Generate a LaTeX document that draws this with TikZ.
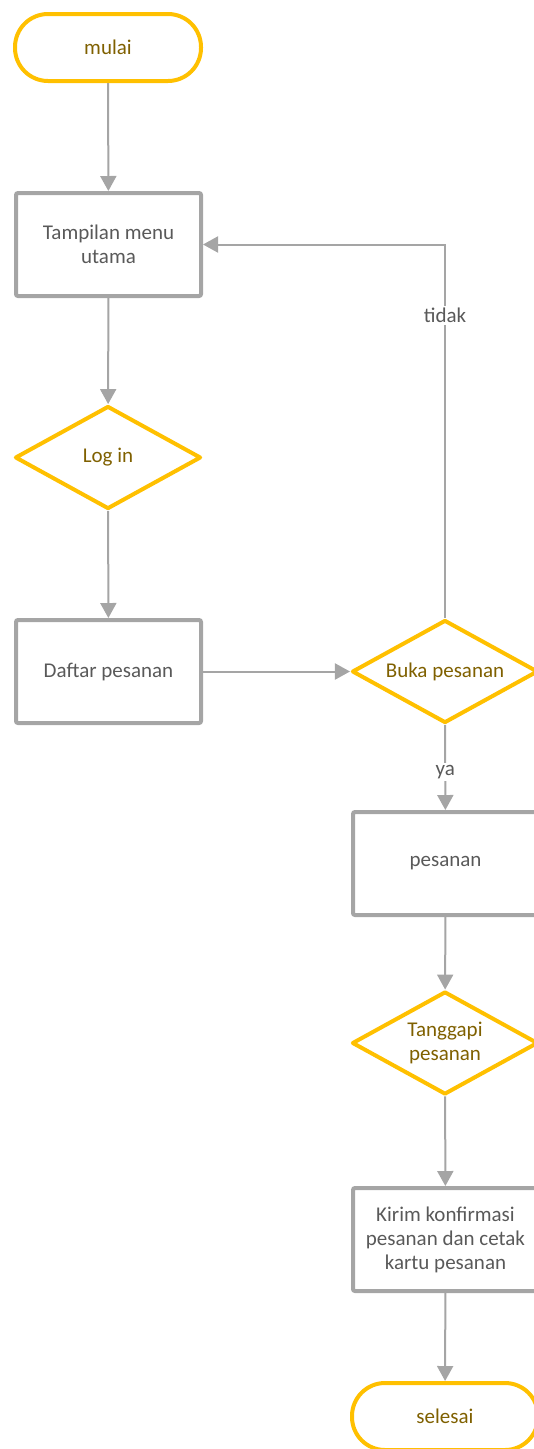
\documentclass[tikz,border=0pt]{standalone}
\usepackage{fontspec}
\setmainfont{Carlito}
\usetikzlibrary{shapes.geometric,arrows.meta}
\definecolor{gold}{HTML}{FFC000}
\definecolor{goldtext}{HTML}{7F6000}
\definecolor{boxgray}{HTML}{A5A5A5}
\definecolor{textgray}{HTML}{595959}
\tikzset{
  every node/.style={font=\fontsize{21}{24}\selectfont, align=center},
  terminal/.style={draw=gold, line width=4pt, rectangle, rounded corners=33pt,
    minimum width=186pt, minimum height=67pt, inner sep=0pt, text=goldtext},
  process/.style={draw=boxgray, line width=4pt, rectangle, rounded corners=2pt,
    minimum width=185pt, minimum height=103pt, inner sep=0pt, text=textgray},
  decision/.style={draw=gold, line width=4pt, diamond, aspect=1.8, line join=round,
    minimum width=186pt, minimum height=103pt, inner sep=0pt, text=goldtext},
  flow/.style={draw=boxgray, line width=2pt,
    -{Triangle[width=16pt,length=15pt]}},
  edgelabel/.style={fill=white, text=textgray, inner sep=2pt}
}
\begin{document}
\begin{tikzpicture}[x=1pt, y=-1pt]
  \useasboundingbox (0,0) rectangle (534,1449);
  % left column
  \node[terminal] (start) at (108,47.5) {mulai};
  \node[process]  (menu)  at (108.5,244.5) {Tampilan menu\\utama};
  \node[decision] (login) at (108,457.5) {Log in};
  \node[process]  (list)  at (108.5,671.5) {Daftar pesanan};
  % right column
  \node[decision] (open)  at (445,671.5) {Buka pesanan};
  \node[process]  (order) at (445.5,863.5) {pesanan};
  \node[decision] (reply) at (445,1043) {Tanggapi\\pesanan};
  \node[process]  (send)  at (445.5,1239.5) {Kirim konfirmasi\\pesanan dan cetak\\kartu pesanan};
  \node[terminal] (stop)  at (445,1416.5) {selesai};
  % connectors
  \draw[flow] (start) -- (menu);
  \draw[flow] (menu) -- (login);
  \draw[flow] (login) -- (list);
  \draw[flow] (list) -- (open);
  \draw[flow] (open.north) |- (menu.east)
    node[edgelabel, pos=0.405] {tidak};
  \draw[flow] (open) -- (order)
    node[edgelabel, pos=0.55] {ya};
  \draw[flow] (order) -- (reply);
  \draw[flow] (reply) -- (send);
  \draw[flow] (send) -- (stop);
\end{tikzpicture}
\end{document}
